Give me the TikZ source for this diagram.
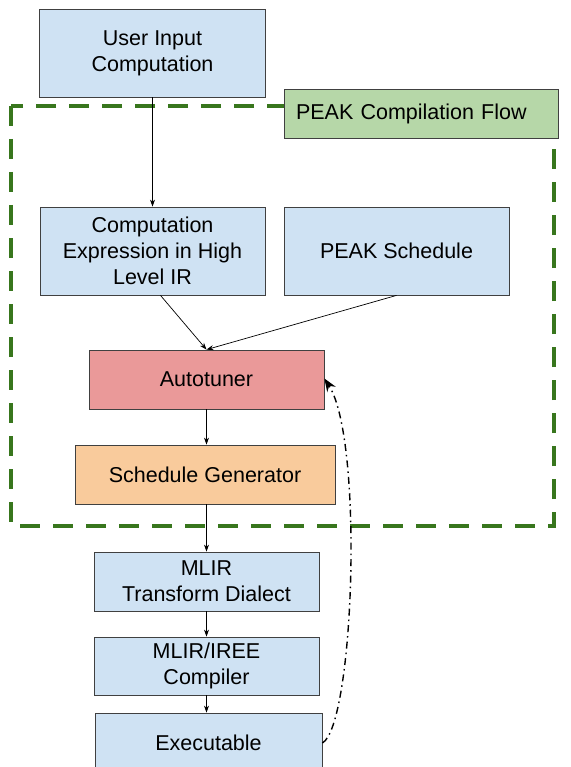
\documentclass[tikz,border=0pt]{standalone}
\usepackage{fontspec}
\setmainfont{Liberation Sans}
\usetikzlibrary{arrows.meta}
\definecolor{boxblue}{HTML}{CFE2F3}
\definecolor{boxred}{HTML}{EA9999}
\definecolor{boxorange}{HTML}{F9CB9C}
\definecolor{boxgreen}{HTML}{B6D7A8}
\definecolor{flowgreen}{HTML}{38761D}
\tikzset{
  box/.style={draw=black!75, line width=0.8pt, align=center, inner sep=0pt,
    font=\fontsize{21.5}{26}\selectfont},
  bluebox/.style={box, fill=boxblue},
  flow/.style={-{Stealth[length=7pt,width=5pt]}, line width=0.7pt},
  feedback/.style={-{Stealth[length=13pt,width=10pt]}, line width=1.4pt,
    dash pattern=on 7pt off 4pt on 1.5pt off 4pt},
}
\begin{document}
\begin{tikzpicture}[x=1pt,y=-1pt]
\clip (0,0) rectangle (570,767);
\useasboundingbox (0,0) rectangle (570,767);
\fill[white] (0,0) rectangle (570,767);

% group frame
\draw[flowgreen, line width=4.7pt, dash pattern=on 20pt off 13pt]
  (11,106) rectangle (554,526);

% nodes
\node[bluebox, minimum width=226pt, minimum height=88pt] (ui) at (152.5,53) {User Input\\Computation};
\node[box, fill=boxgreen, minimum height=49pt, text width=250pt, inner xsep=12pt, align=left] (lbl) at (421,113.5) {PEAK Compilation Flow};
\node[bluebox, minimum width=225pt, minimum height=88pt] (cexp) at (152.5,251) {Computation\\Expression in High\\Level IR};
\node[bluebox, minimum width=225pt, minimum height=88pt] (ps) at (396.5,251) {PEAK Schedule};
\node[box, fill=boxred, minimum width=235pt, minimum height=59pt] (at) at (206.5,379.5) {Autotuner};
\node[box, fill=boxorange, minimum width=260pt, minimum height=59pt] (sg) at (205,474.5) {Schedule Generator};
\node[bluebox, minimum width=225pt, minimum height=59pt] (mt) at (206.5,581.5) {MLIR\\Transform Dialect};
\node[bluebox, minimum width=225pt, minimum height=58pt] (mc) at (206.5,666) {MLIR/IREE\\Compiler};
\node[bluebox, minimum width=227pt, minimum height=60pt] (ex) at (208.5,743) {Executable};

% connectors
\draw[flow] (ui.south) -- (cexp.north);
\draw[flow] ([xshift=8pt]cexp.south) -- (at.north);
\draw[flow] (ps.south) -- (at.north);
\draw[flow] (at.south) -- ([xshift=1.5pt]sg.north);
\draw[flow] ([xshift=1.5pt]sg.south) -- (mt.north);
\draw[flow] (mt.south) -- (mc.north);
\draw[flow] (mc.south) -- ([xshift=-2pt]ex.north);
\draw[feedback] (ex.east) .. controls (354,725) and (364,440) .. ([yshift=1pt]at.east);
\end{tikzpicture}
\end{document}
